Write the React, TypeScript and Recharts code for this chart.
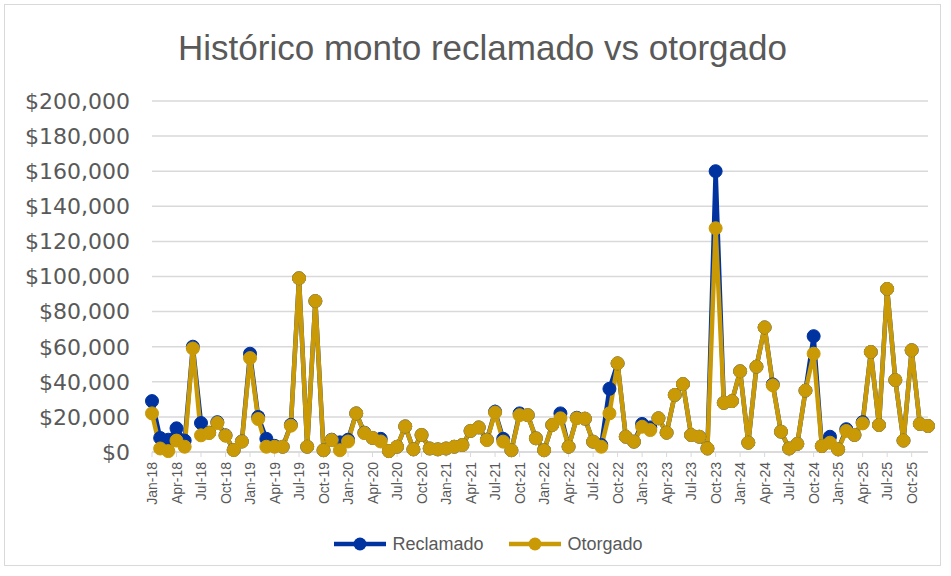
import { LineChart, Line, XAxis, YAxis, CartesianGrid, Legend } from 'recharts';

const months = [
  'Jan-18', 'Feb-18', 'Mar-18', 'Apr-18', 'May-18', 'Jun-18', 'Jul-18', 'Aug-18', 'Sep-18', 'Oct-18', 'Nov-18', 'Dec-18',
  'Jan-19', 'Feb-19', 'Mar-19', 'Apr-19', 'May-19', 'Jun-19', 'Jul-19', 'Aug-19', 'Sep-19', 'Oct-19', 'Nov-19', 'Dec-19',
  'Jan-20', 'Feb-20', 'Mar-20', 'Apr-20', 'May-20', 'Jun-20', 'Jul-20', 'Aug-20', 'Sep-20', 'Oct-20', 'Nov-20', 'Dec-20',
  'Jan-21', 'Feb-21', 'Mar-21', 'Apr-21', 'May-21', 'Jun-21', 'Jul-21', 'Aug-21', 'Sep-21', 'Oct-21', 'Nov-21', 'Dec-21',
  'Jan-22', 'Feb-22', 'Mar-22', 'Apr-22', 'May-22', 'Jun-22', 'Jul-22', 'Aug-22', 'Sep-22', 'Oct-22', 'Nov-22', 'Dec-22',
  'Jan-23', 'Feb-23', 'Mar-23', 'Apr-23', 'May-23', 'Jun-23', 'Jul-23', 'Aug-23', 'Sep-23', 'Oct-23', 'Nov-23', 'Dec-23',
  'Jan-24', 'Feb-24', 'Mar-24', 'Apr-24', 'May-24', 'Jun-24', 'Jul-24', 'Aug-24', 'Sep-24', 'Oct-24', 'Nov-24', 'Dec-24',
  'Jan-25', 'Feb-25', 'Mar-25', 'Apr-25', 'May-25', 'Jun-25', 'Jul-25', 'Aug-25', 'Sep-25', 'Oct-25', 'Nov-25', 'Dec-25',
];

// monto reclamado, en pesos
const reclamado = [
  29000, 8000, 7000, 13500, 6500, 60000, 16500, 11000, 17000, 9500, 1200, 6000,
  56000, 20000, 7500, 3500, 3000, 15500, 99000, 3000, 86000, 1000, 7000, 5500,
  7000, 22000, 11000, 8000, 7500, 500, 3000, 14600, 1500, 9700, 2000, 1500,
  2000, 3000, 4000, 12000, 14000, 7000, 23000, 7500, 1000, 22000, 21000, 7800,
  1000, 15400, 22000, 3000, 19500, 19000, 5900, 4000, 36000, 50500, 8700, 5900,
  16000, 14000, 19200, 11000, 32500, 38700, 9700, 8700, 2000, 160000, 28000, 29000,
  46000, 5300, 48600, 71000, 38500, 11600, 2000, 4600, 35000, 66000, 3400, 8700,
  1500, 13000, 9700, 17000, 57000, 15400, 92900, 41000, 6500, 58000, 16000, 14800,
];

// monto otorgado, en pesos
const otorgado = [
  22000, 2000, 500, 6500, 3000, 59000, 9500, 10800, 16500, 9300, 1100, 5900,
  53500, 18800, 3000, 3000, 3000, 15000, 99000, 3000, 86000, 1000, 6800, 1000,
  6000, 22000, 10800, 8000, 6000, 500, 3000, 14600, 1500, 9700, 2000, 1500,
  2000, 3000, 4000, 12000, 14000, 6800, 22500, 5900, 1000, 21000, 21000, 7800,
  1000, 15400, 19200, 3000, 19200, 19000, 5900, 3000, 22000, 50500, 8700, 5900,
  14400, 12500, 19200, 11000, 32500, 38700, 9700, 8700, 2000, 127500, 28000, 29000,
  46000, 5300, 48600, 71000, 38000, 11600, 2000, 4600, 35000, 56000, 3400, 5300,
  1500, 12000, 9700, 16300, 57000, 15400, 92900, 41000, 6500, 58000, 16000, 14800,
];

const yTicks = [0, 20000, 40000, 60000, 80000, 100000, 120000, 140000, 160000, 180000, 200000];

const BLUE = '#0033a0';
const GOLD = '#c99a06';
const TEXT = '#595959';

const data = months.map((m, i) => ({ month: m, reclamado: reclamado[i], otorgado: otorgado[i] }));

const fmtMoney = (v: number) => '$' + v.toLocaleString('en-US');

const MonthTick = (props: any) => {
  const { x, y, payload } = props;
  return (
    <text
      x={x}
      y={y}
      transform={`rotate(-90, ${x}, ${y})`}
      textAnchor="end"
      dominantBaseline="central"
      fontSize={14}
      fontFamily="Liberation Sans, Arial, sans-serif"
      fill={TEXT}
    >
      {payload.value}
    </text>
  );
};

const legendItems = [
  { name: 'Reclamado', color: BLUE },
  { name: 'Otorgado', color: GOLD },
];

const LegendContent = () => (
  <div style={{ display: 'flex', justifyContent: 'center', height: 20, paddingLeft: 44, gap: 26 }}>
    {legendItems.map((it) => (
      <div key={it.name} style={{ display: 'flex', alignItems: 'center' }}>
        <svg width={52} height={20}>
          <line x1={0} y1={10} x2={52} y2={10} stroke={it.color} strokeWidth={4.5} />
          <circle cx={26} cy={10} r={6.5} fill={it.color} />
        </svg>
        <span style={{ marginLeft: 6, fontSize: 18, color: TEXT, fontFamily: 'Liberation Sans, Arial, sans-serif' }}>{it.name}</span>
      </div>
    ))}
  </div>
);

export default function App() {
  return (
    <div
      style={{
        position: 'absolute',
        left: 4,
        top: 4,
        width: 935,
        height: 560,
        border: '1px solid #d9d9d9',
        background: '#fff',
      }}
    >
      <div
        style={{
          position: 'absolute',
          top: 23,
          left: 20,
          right: 0,
          textAlign: 'center',
          fontSize: 35,
          color: TEXT,
          fontFamily: 'Liberation Sans, Arial, sans-serif',
          lineHeight: '40px',
        }}
      >
        Histórico monto reclamado vs otorgado
      </div>
      <LineChart width={935} height={560} data={data} margin={{ top: 96, right: 12, left: 0, bottom: 11 }}>
        <CartesianGrid vertical={false} stroke="#d9d9d9" strokeWidth={1.5} />
        <XAxis
          dataKey="month"
          interval={2}
          tick={<MonthTick />}
          tickSize={5}
          tickMargin={5}
          height={82}
          axisLine={{ stroke: '#d9d9d9', strokeWidth: 1.5 }}
          tickLine={{ stroke: '#d9d9d9' }}
        />
        <YAxis
          domain={[0, 200000]}
          ticks={yTicks}
          tickFormatter={fmtMoney}
          width={147}
          axisLine={false}
          tickLine={false}
          tickSize={0}
          tickMargin={22}
          tick={{ fill: TEXT, fontSize: 22, fontFamily: 'DejaVu Sans, sans-serif' }}
        />
        <Legend verticalAlign="bottom" content={<LegendContent />} />
        <Line
          type="linear"
          dataKey="reclamado"
          name="Reclamado"
          stroke={BLUE}
          strokeWidth={4.5}
          dot={{ r: 6.5, fill: BLUE, stroke: BLUE, strokeWidth: 1 }}
          isAnimationActive={false}
        />
        <Line
          type="linear"
          dataKey="otorgado"
          name="Otorgado"
          stroke={GOLD}
          strokeWidth={4.5}
          dot={{ r: 6.5, fill: GOLD, stroke: GOLD, strokeWidth: 1 }}
          isAnimationActive={false}
        />
      </LineChart>
    </div>
  );
}
